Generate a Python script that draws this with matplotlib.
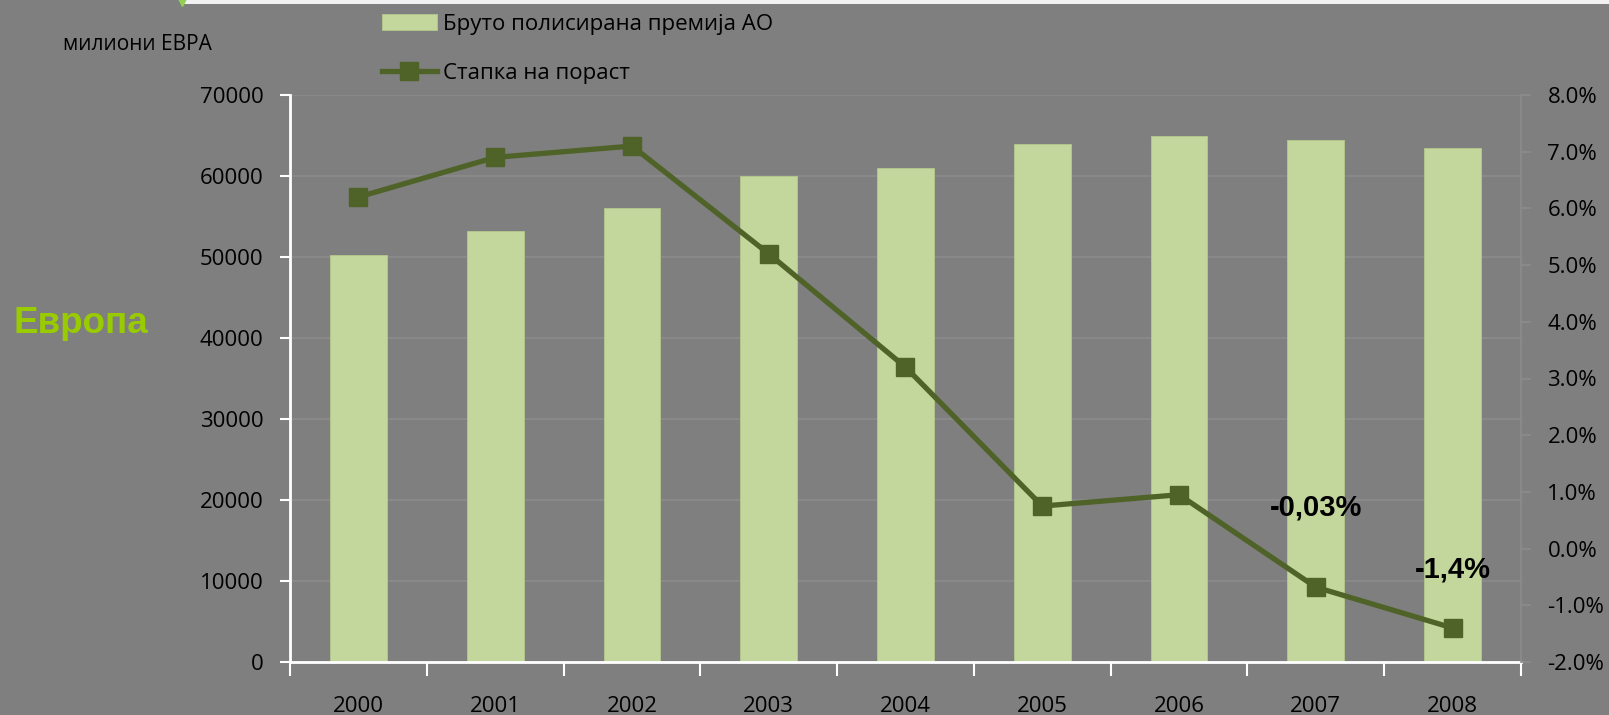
import matplotlib

matplotlib.use("Agg")
import matplotlib.pyplot as plt
import numpy as np
from matplotlib.patches import Rectangle
from matplotlib.ticker import FixedLocator, FuncFormatter

plt.rcParams["font.family"] = ["Open Sans", "DejaVu Sans"]

years = ["2000", "2001", "2002", "2003", "2004", "2005", "2006", "2007", "2008"]
premium = [50200, 53200, 56000, 60000, 61000, 64000, 65000, 64500, 63500]
growth = [6.2, 6.9, 7.1, 5.2, 3.2, 0.75, 0.95, -0.68, -1.4]
bar_label = "Бруто полисирана премија АО"
line_label = "Стапка на пораст"
unit_label = "милиони ЕВРА"
region_label = "Европа"
notes = {7: "-0,03%", 8: "-1,4%"}

BG = "#7F7F7F"
GRID = "#8C8C8C"
BAR = "#C3D69B"
LINE = "#4F6228"

fig = plt.figure(figsize=(16.09, 7.15), dpi=100, facecolor=BG)
ax = fig.add_axes([290 / 1609, 1 - 662 / 715, (1521 - 290) / 1609, (662 - 95) / 715])
ax.set_facecolor(BG)

x = np.arange(len(years))
bars = ax.bar(x, premium, width=0.415, color=BAR, edgecolor="#B5C98C", linewidth=0.6, zorder=2)
ax.set_xlim(-0.5, len(years) - 0.5)
ax.set_ylim(0, 70000)
ax.set_yticks(np.arange(0, 70001, 10000))
ax.yaxis.grid(True, color=GRID, linewidth=1.2, zorder=0)
ax.set_axisbelow(True)

ax.set_xticks(x)
ax.set_xticklabels(years)
ax.xaxis.set_minor_locator(FixedLocator(np.arange(-0.5, len(years), 1.0)))
ax.tick_params(axis="x", which="major", length=0, pad=24.5, labelsize=16, colors="black")
ax.tick_params(axis="x", which="minor", length=10, width=1.5, color="white")
ax.tick_params(axis="y", length=7, width=1.5, color="white", labelsize=16, pad=12, labelcolor="black")

for side in ("top", "right"):
    ax.spines[side].set_visible(False)
for side in ("left", "bottom"):
    ax.spines[side].set_color("white")
    ax.spines[side].set_linewidth(2)

ax2 = ax.twinx()
ax2.set_ylim(-2, 8)
ax2.set_yticks(np.arange(-2, 8.01, 1))
ax2.yaxis.set_major_formatter(FuncFormatter(lambda v, _: f"{v:.1f}%"))
for tl in ax2.get_yticklabels():
    tl.set_horizontalalignment("left")
ax2.tick_params(axis="y", length=7, width=1.2, color=GRID, labelsize=16, pad=12)
for side in ("top", "left", "bottom"):
    ax2.spines[side].set_visible(False)
ax2.spines["right"].set_color(GRID)
ax2.spines["right"].set_linewidth(1.2)

line, = ax2.plot(x, growth, color=LINE, linewidth=3.8, marker="s", markersize=13.5,
                 markerfacecolor=LINE, markeredgecolor=LINE, zorder=3)

note_offsets = {7: 57, 8: 42}
for i, txt in notes.items():
    ax2.annotate(txt, (x[i], growth[i]), xytext=(0, note_offsets[i]), textcoords="offset points",
                 ha="center", va="center", fontsize=21, fontweight="bold",
                 family=["Liberation Sans", "DejaVu Sans"], color="black")

fig.legend([bars, line], [bar_label, line_label], loc="upper left",
           bbox_to_anchor=(366 / 1609, 1.0 + 2 / 715), frameon=False, fontsize=16,
           handlelength=2.5, handletextpad=0.25, labelspacing=1.28, borderpad=0.2)

fig.text(63 / 1609, 1 - 44 / 715, unit_label, fontsize=15, va="center", ha="left", color="black")
fig.text(14 / 1609, 1 - 333 / 715, region_label, fontsize=26.5, fontweight="bold",
         family=["Liberation Sans", "DejaVu Sans"], color="#99CC00", va="baseline", ha="left")

# thin light strip along the top edge
fig.patches.append(Rectangle((183 / 1609, 1 - 4 / 715), 1, 4 / 715, transform=fig.transFigure,
                             facecolor="#F2F2F2", edgecolor="none"))
fig.lines.append(plt.Line2D([182 / 1609], [1 - 2 / 715], transform=fig.transFigure, marker="v",
                            markersize=6, color="#92D050", linestyle="none"))

fig.savefig("out.png", dpi=100, facecolor=BG)
